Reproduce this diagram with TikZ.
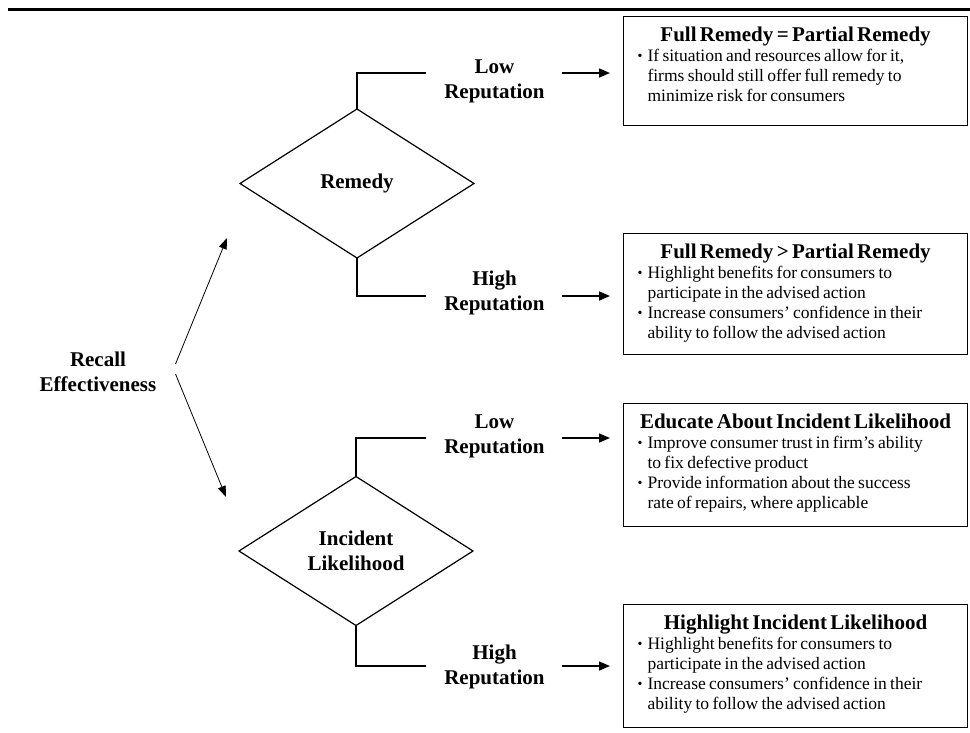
\documentclass[tikz,border=0pt]{standalone}
\usepackage{fontspec}
\setmainfont{Liberation Serif}
\usetikzlibrary{arrows.meta,shapes.geometric}
\newcommand{\lblfont}{\fontsize{21}{25}\selectfont\bfseries}
\newcommand{\ttlfont}{\fontsize{21}{25}\selectfont\bfseries}
\newcommand{\bdyfont}{\fontsize{17.5}{20}\selectfont}
\newcommand{\bul}{\leavevmode\llap{\raisebox{1pt}{\fontsize{14}{14}\selectfont\textbullet}\hspace{5pt}}}
\newcommand{\ttl}[1]{{\noindent\centering\ttlfont\rule{0pt}{25pt}#1\par}}
\newcommand{\bdy}[2]{{\bdyfont\raggedright\leftskip=24pt\relax\noindent #1\rule[-#2]{0pt}{#2}\par}}
\begin{document}
\begin{tikzpicture}[x=1pt,y=-1pt,
  dia/.style={draw,diamond,minimum width=234pt,minimum height=149pt,inner sep=0pt,outer sep=0pt,shape aspect=1.57,align=center,font=\lblfont,line width=1.2pt},
  lbl/.style={align=center,font=\lblfont,inner xsep=17.5pt,inner ysep=0pt},
  bx/.style={draw,line width=1.1pt,anchor=north west,inner sep=0pt,text width=344pt},
  brk/.style={line width=1.5pt},
  harr/.style={line width=1.5pt,-{Triangle[length=11pt,width=9pt]},shorten >=13pt},
  tarr/.style={line width=0.8pt,-{Triangle[length=11pt,width=8pt]}}]
\useasboundingbox (0,0) rectangle (970,732);
\draw[line width=3pt] (8,9) -- (970,9);

\node[align=center,font=\lblfont,inner xsep=19pt] (rec) at (98,372) {Recall\\Effectiveness};
\node[dia] (rem) at (357,183.5) {Remedy};
\node[dia] (inc) at (356,551) {Incident\\Likelihood};

\node[lbl] (lr1) at (494.5,81.5) {Low\\Reputation};
\node[lbl] (hr1) at (494.5,292.5) {High\\Reputation};
\node[lbl] (lr2) at (494.5,436.5) {Low\\Reputation};
\node[lbl] (hr2) at (494.5,666.5) {High\\Reputation};

\node[bx] (bx1) at (623,16) {\ttl{Full Remedy = Partial Remedy}
\bdy{\bul If situation and resources allow for it,\\ firms should still offer full remedy to\\ minimize risk for consumers}{23.5pt}};
\node[bx] (bx2) at (623,233) {\ttl{Full Remedy > Partial Remedy}
\bdy{\bul Highlight benefits for consumers to\\ participate in the advised action\\ \bul Increase consumers’ confidence in their\\ ability to follow the advised action}{16pt}};
\node[bx] (bx3) at (623,403) {\ttl{Educate About Incident Likelihood}
\bdy{\bul Improve consumer trust in firm’s ability\\ to fix defective product\\ \bul Provide information about the success\\ rate of repairs, where applicable}{18pt}};
\node[bx] (bx4) at (623,604) {\ttl{Highlight Incident Likelihood}
\bdy{\bul Highlight benefits for consumers to\\ participate in the advised action\\ \bul Increase consumers’ confidence in their\\ ability to follow the advised action}{18pt}};

\coordinate (b1) at (426,73);
\coordinate (b2) at (426,296);
\coordinate (b3) at (426,438);
\coordinate (b4) at (426,666);
\draw[brk] (rem.north) |- (b1);
\draw[brk] (rem.south) |- (b2);
\draw[brk] (inc.north) |- (b3);
\draw[brk] (inc.south) |- (b4);

\draw[harr] (lr1.east |- b1) -- (bx1.west |- b1);
\draw[harr] (hr1.east |- b2) -- (bx2.west |- b2);
\draw[harr] (lr2.east |- b3) -- (bx3.west |- b3);
\draw[harr] (hr2.east |- b4) -- (bx4.west |- b4);

\coordinate (t1) at (227,238);
\coordinate (t2) at (226,497);
\draw[tarr] ([yshift=8pt]rec.east) -- (t1);
\draw[tarr] ([yshift=-2pt]rec.east) -- (t2);
\end{tikzpicture}
\end{document}
